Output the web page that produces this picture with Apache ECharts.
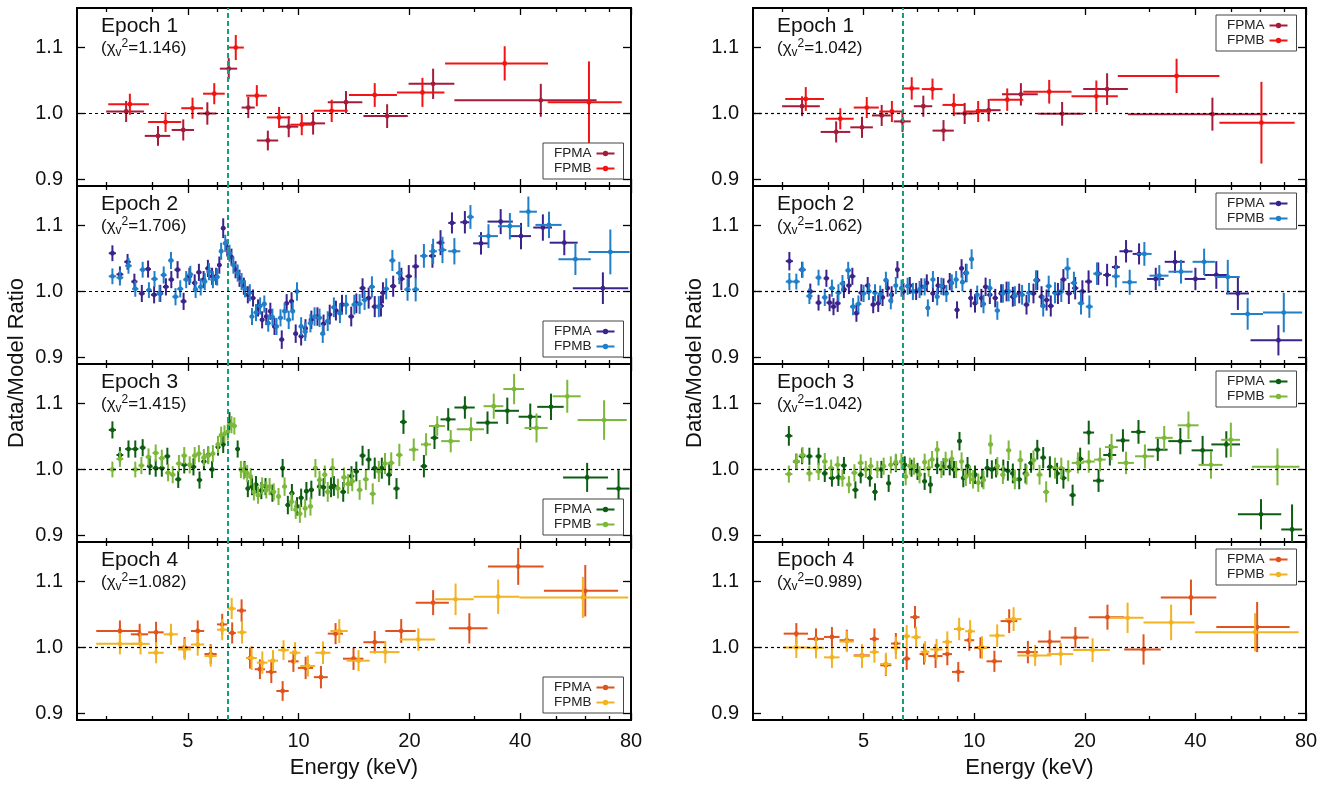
<!DOCTYPE html>
<html>
<head>
<meta charset="utf-8">
<title>Data/Model ratio per epoch</title>
<script src="https://cdn.jsdelivr.net/npm/echarts@6/dist/echarts.min.js"></script>
<style>
  html, body { margin: 0; padding: 0; background: #fff; }
  #chart { width: 1341px; height: 785px; }
</style>
</head>
<body>
<div id="chart"></div>
<script>
// each point: [energy keV, half bin width keV, data/model ratio, error]

// ---- left column ----
const ep1LeftA = [
  [3.4,0.4,1.003,0.016],[4.15,0.33,0.966,0.015],[4.86,0.34,0.975,0.016],[5.65,0.33,1.0,0.017],
  [6.46,0.35,1.068,0.016],[7.3,0.3,1.009,0.016],[8.25,0.55,0.959,0.015],[9.4,0.58,0.98,0.016],
  [10.95,0.85,0.985,0.017],[13.45,1.45,1.017,0.017],[17.4,2.4,0.996,0.018],[23.2,3.3,1.045,0.023],
  [45.5,19,1.02,0.025]
];
const ep1LeftB = [
  [3.48,0.44,1.014,0.016],[4.35,0.45,0.987,0.015],[5.15,0.35,1.008,0.016],[5.9,0.4,1.03,0.016],
  [6.75,0.35,1.1,0.019],[7.7,0.5,1.027,0.016],[8.85,0.65,0.994,0.016],[10.2,0.7,0.983,0.016],
  [12.3,1.3,1.004,0.017],[16.1,2.4,1.028,0.018],[21.7,3.2,1.032,0.022],[36.3,11.3,1.076,0.026],
  [61.5,14,1.017,0.062]
];
const ep2LeftA = [
  [3.12,0.07,1.058,0.012],[3.27,0.07,1.026,0.012],[3.43,0.07,1.045,0.012],[3.58,0.07,1.015,0.012],
  [3.75,0.07,0.997,0.013],[3.9,0.07,1.034,0.013],[4.05,0.08,0.995,0.013],[4.21,0.08,0.997,0.013],
  [4.36,0.08,1.007,0.013],[4.51,0.08,1.018,0.013],[4.69,0.09,1.033,0.013],[4.87,0.09,0.985,0.013],
  [5.05,0.09,1.023,0.013],[5.22,0.09,1.013,0.013],[5.36,0.09,1.029,0.013],[5.52,0.09,1.018,0.013],
  [5.67,0.09,1.035,0.013],[5.82,0.09,1.023,0.013],[5.97,0.09,1.023,0.013],[6.09,0.09,1.04,0.013],
  [6.24,0.09,1.096,0.015],[6.4,0.09,1.066,0.013],[6.57,0.1,1.052,0.013],[6.74,0.1,1.033,0.013],
  [6.91,0.1,1.02,0.013],[7.1,0.1,1.008,0.013],[7.28,0.1,0.995,0.013],[7.52,0.12,0.99,0.013],
  [7.76,0.12,0.975,0.013],[7.96,0.12,0.957,0.013],[8.17,0.12,0.962,0.013],[8.38,0.13,0.97,0.013],
  [8.6,0.13,0.947,0.013],[9.0,0.14,0.927,0.014],[9.28,0.14,0.982,0.014],[9.57,0.15,0.985,0.014],
  [9.82,0.15,0.936,0.014],[10.16,0.16,0.932,0.014],[10.44,0.16,0.944,0.014],[10.83,0.18,0.957,0.014],
  [11.25,0.18,0.962,0.014],[11.69,0.2,0.951,0.014],[12.15,0.2,0.965,0.015],[12.63,0.22,0.971,0.015],
  [13.12,0.22,0.98,0.015],[13.9,0.25,0.962,0.015],[14.35,0.25,0.982,0.015],[14.92,0.28,1.005,0.015],
  [15.5,0.28,0.99,0.016],[16.1,0.3,0.977,0.016],[16.74,0.3,0.978,0.016],[16.95,0.3,0.998,0.016],
  [18.07,0.35,1.008,0.016],[19.02,0.38,1.019,0.017],[19.92,0.4,1.023,0.017],[20.8,0.45,1.038,0.018],
  [23.1,0.5,1.054,0.018],[24.3,0.6,1.074,0.019],[26.1,0.6,1.104,0.016],[28.3,0.8,1.105,0.017],
  [31.3,1.5,1.073,0.017],[35.4,2.8,1.106,0.019],[40.2,2.6,1.084,0.02],[46.1,2.7,1.097,0.02],
  [52.7,4.6,1.074,0.019],[67.1,11.5,1.005,0.024]
];
const ep2LeftB = [
  [3.12,0.07,1.023,0.012],[3.27,0.07,1.021,0.012],[3.45,0.07,1.039,0.012],[3.6,0.07,1.004,0.012],
  [3.77,0.07,1.033,0.012],[3.92,0.07,1.002,0.012],[4.06,0.08,1.019,0.012],[4.19,0.08,0.997,0.013],
  [4.3,0.08,1.025,0.013],[4.5,0.08,1.047,0.013],[4.63,0.09,0.992,0.013],[4.77,0.09,1.004,0.013],
  [4.95,0.09,1.018,0.013],[5.08,0.09,1.026,0.013],[5.25,0.09,1.003,0.013],[5.42,0.09,1.007,0.013],
  [5.56,0.09,1.015,0.013],[5.71,0.09,1.03,0.013],[5.85,0.09,1.018,0.013],[6.01,0.09,1.022,0.013],
  [6.16,0.09,1.061,0.013],[6.32,0.09,1.073,0.013],[6.49,0.1,1.058,0.013],[6.65,0.1,1.04,0.013],
  [6.83,0.1,1.028,0.013],[7.0,0.1,1.015,0.013],[7.15,0.1,1.004,0.013],[7.37,0.11,0.998,0.013],
  [7.47,0.11,0.962,0.013],[7.66,0.12,0.968,0.013],[7.86,0.12,0.978,0.013],[8.07,0.12,0.981,0.013],
  [8.27,0.13,0.952,0.013],[8.49,0.13,0.961,0.013],[8.71,0.13,0.947,0.013],[8.93,0.14,0.96,0.013],
  [9.16,0.14,0.97,0.013],[9.4,0.15,0.957,0.014],[9.64,0.15,0.97,0.014],[9.9,0.15,1.0,0.014],
  [10.16,0.16,0.947,0.014],[10.42,0.16,0.939,0.014],[10.77,0.18,0.952,0.014],[11.05,0.18,0.962,0.014],
  [11.4,0.19,0.96,0.014],[11.63,0.19,0.936,0.014],[12.0,0.2,0.955,0.015],[12.47,0.22,0.976,0.015],
  [12.95,0.22,0.967,0.015],[13.46,0.24,0.98,0.015],[14.17,0.25,0.98,0.015],[14.65,0.26,0.981,0.015],
  [15.11,0.28,0.987,0.015],[15.82,0.3,1.007,0.016],[16.52,0.3,0.977,0.016],[17.3,0.32,1.004,0.016],
  [17.98,0.35,1.047,0.016],[18.78,0.38,1.028,0.017],[19.77,0.4,1.003,0.017],[20.8,0.45,1.003,0.018],
  [21.9,0.5,1.054,0.018],[23.2,0.55,1.061,0.019],[24.6,0.6,1.063,0.02],[26.5,1.0,1.061,0.02],
  [29.3,0.6,1.113,0.018],[32.8,2.0,1.084,0.018],[37.5,2.7,1.099,0.02],[42.1,2.3,1.121,0.023],
  [47.9,3.9,1.101,0.02],[56.5,5.7,1.049,0.024],[70.3,9.0,1.06,0.034]
];
const ep3LeftA = [
  [3.12,0.07,1.06,0.013],[3.27,0.07,1.022,0.012],[3.45,0.07,1.031,0.013],[3.6,0.07,1.031,0.013],
  [3.77,0.07,1.033,0.013],[3.94,0.07,1.005,0.013],[4.09,0.08,1.002,0.013],[4.25,0.08,1.002,0.013],
  [4.4,0.08,1.02,0.013],[4.71,0.09,0.985,0.013],[4.89,0.09,1.007,0.013],[5.18,0.09,1.004,0.013],
  [5.38,0.09,0.984,0.013],[5.53,0.09,1.012,0.013],[5.68,0.09,1.022,0.013],[5.82,0.09,1.0,0.013],
  [6.04,0.09,1.034,0.013],[6.24,0.09,1.038,0.013],[6.49,0.1,1.073,0.014],[6.83,0.1,1.031,0.013],
  [7.13,0.1,1.0,0.013],[7.28,0.1,0.971,0.013],[7.47,0.11,0.974,0.013],[7.66,0.12,0.977,0.013],
  [7.92,0.12,0.968,0.013],[8.13,0.12,0.974,0.013],[8.49,0.13,0.964,0.013],[9.05,0.14,1.002,0.014],
  [9.35,0.14,0.946,0.014],[9.59,0.15,0.964,0.014],[9.9,0.15,0.944,0.014],[10.16,0.16,0.957,0.014],
  [10.5,0.16,0.967,0.014],[10.83,0.18,0.969,0.014],[11.4,0.19,0.974,0.014],[11.69,0.19,0.973,0.014],
  [12.25,0.2,0.973,0.015],[12.47,0.22,0.975,0.015],[13.22,0.24,0.966,0.015],[13.92,0.25,0.99,0.015],
  [14.35,0.25,0.997,0.015],[14.92,0.28,1.021,0.015],[15.5,0.28,1.015,0.016],[16.1,0.3,1.002,0.016],
  [16.83,0.3,1.002,0.016],[17.62,0.32,0.992,0.016],[18.45,0.36,0.971,0.016],[19.27,0.4,1.072,0.018],
  [21.9,0.45,1.005,0.017],[23.4,0.55,1.048,0.017],[25.5,1.2,1.076,0.017],[28.3,1.8,1.094,0.017],
  [32.6,2.2,1.071,0.017],[36.9,2.8,1.089,0.02],[42.6,3.0,1.08,0.02],[48.5,4.0,1.095,0.02],
  [60.8,8.5,0.988,0.022],[74.0,5.3,0.971,0.028]
];
const ep3LeftB = [
  [3.12,0.07,1.0,0.012],[3.27,0.07,1.016,0.012],[3.6,0.07,1.0,0.012],[3.74,0.07,1.006,0.013],
  [3.91,0.07,1.019,0.013],[4.09,0.08,1.025,0.013],[4.25,0.08,1.017,0.013],[4.42,0.08,0.995,0.013],
  [4.55,0.08,0.992,0.013],[4.73,0.09,1.009,0.013],[4.89,0.09,1.021,0.013],[5.06,0.09,1.007,0.013],
  [5.22,0.09,1.021,0.013],[5.36,0.09,1.024,0.013],[5.53,0.09,1.018,0.013],[5.68,0.09,1.021,0.013],
  [5.85,0.09,1.024,0.013],[6.04,0.09,1.038,0.013],[6.16,0.09,1.052,0.013],[6.29,0.09,1.054,0.013],
  [6.42,0.09,1.057,0.013],[6.57,0.1,1.068,0.013],[6.69,0.1,1.066,0.013],[6.97,0.1,1.0,0.013],
  [7.1,0.1,0.998,0.013],[7.25,0.1,0.994,0.013],[7.41,0.11,0.989,0.013],[7.56,0.11,0.966,0.013],
  [7.76,0.12,0.961,0.013],[7.96,0.12,0.975,0.013],[8.17,0.12,0.969,0.013],[8.34,0.13,0.974,0.013],
  [8.56,0.13,0.966,0.013],[8.82,0.13,0.959,0.013],[9.16,0.14,0.974,0.014],[9.57,0.15,0.951,0.014],
  [9.82,0.15,0.939,0.014],[10.08,0.16,0.933,0.014],[10.42,0.16,0.941,0.014],[10.77,0.18,0.944,0.014],
  [11.11,0.18,1.002,0.014],[11.4,0.19,0.984,0.014],[11.78,0.19,0.992,0.014],[12.0,0.2,0.966,0.015],
  [12.37,0.2,1.002,0.015],[12.79,0.22,0.971,0.015],[13.29,0.24,0.988,0.015],[13.63,0.24,0.978,0.015],
  [13.99,0.25,0.982,0.015],[14.65,0.26,0.969,0.015],[15.23,0.28,0.985,0.016],[15.9,0.3,0.963,0.016],
  [16.52,0.3,0.997,0.016],[17.17,0.32,1.009,0.016],[17.85,0.35,1.01,0.016],[18.78,0.38,1.022,0.017],
  [20.55,0.6,1.03,0.017],[22.2,0.7,1.038,0.017],[23.8,1.2,1.066,0.015],[25.9,1.5,1.043,0.017],
  [29.4,2.5,1.061,0.018],[33.9,2.1,1.096,0.019],[38.5,2.5,1.122,0.023],[44.3,3.2,1.063,0.022],
  [53.7,4.7,1.111,0.025],[67.6,10.3,1.075,0.03]
];
const ep4LeftA = [
  [3.27,0.45,1.025,0.016],[3.7,0.2,1.02,0.016],[4.1,0.2,1.023,0.016],[4.9,0.2,1.0,0.016],
  [5.32,0.22,1.025,0.016],[5.77,0.22,0.99,0.015],[6.2,0.2,1.035,0.016],[6.6,0.15,1.022,0.016],
  [7.0,0.2,1.056,0.017],[7.38,0.18,0.984,0.016],[7.85,0.25,0.967,0.015],[8.43,0.28,0.963,0.017],
  [9.05,0.35,0.934,0.015],[9.68,0.32,0.979,0.016],[10.45,0.5,0.969,0.017],[11.5,0.5,0.955,0.017],
  [12.6,0.6,1.021,0.016],[14.1,0.9,0.983,0.017],[16.1,1.1,1.008,0.017],[19.0,1.8,1.025,0.018],
  [23.2,2.4,1.068,0.019],[29.1,3.5,1.029,0.023],[39.5,6.8,1.123,0.028],[60.1,13.7,1.086,0.039]
];
const ep4LeftB = [
  [3.27,0.45,1.0055,0.016],[3.72,0.22,1.0055,0.016],[4.1,0.2,0.992,0.016],[4.5,0.2,1.02,0.016],
  [4.9,0.2,0.997,0.016],[5.32,0.22,1.0045,0.017],[5.77,0.22,0.987,0.016],[6.2,0.2,1.027,0.016],
  [6.58,0.17,1.059,0.016],[7.02,0.2,1.023,0.017],[7.45,0.25,0.984,0.018],[7.97,0.27,0.977,0.017],
  [8.52,0.27,0.98,0.016],[9.1,0.3,0.996,0.015],[9.78,0.33,0.992,0.016],[10.6,0.5,0.972,0.016],
  [11.65,0.55,0.992,0.017],[12.9,0.7,1.025,0.018],[14.55,1.05,0.98,0.016],[17.2,1.6,0.993,0.017],
  [21.15,2.35,1.012,0.017],[26.7,3.2,1.073,0.024],[34.85,4.95,1.077,0.026],[59.2,19.4,1.076,0.031]
];

// ---- right column ----
const ep1RightA = [
  [3.4,0.4,1.011,0.015],[4.21,0.39,0.972,0.016],[4.95,0.35,0.979,0.016],[5.6,0.33,0.997,0.016],
  [6.38,0.34,0.988,0.016],[7.27,0.42,1.011,0.016],[8.25,0.55,0.974,0.016],[9.42,0.62,1.0,0.016],
  [10.95,0.85,1.005,0.017],[13.4,1.5,1.029,0.017],[17.35,2.45,0.9995,0.018],[23.0,3.2,1.037,0.024],
  [44.5,18.3,0.999,0.025]
];
const ep1RightB = [
  [3.48,0.42,1.022,0.018],[4.32,0.38,0.992,0.016],[5.1,0.4,1.009,0.016],[5.97,0.45,1.003,0.016],
  [6.76,0.34,1.038,0.017],[7.7,0.5,1.037,0.016],[8.8,0.6,1.013,0.017],[10.25,0.85,1.003,0.016],
  [12.3,1.3,1.021,0.017],[16.0,2.4,1.033,0.018],[21.5,3.1,1.026,0.024],[35.55,10.95,1.057,0.026],
  [60.5,14,0.986,0.062]
];
const ep2RightA = [
  [3.14,0.07,1.046,0.014],[3.4,0.07,1.033,0.012],[3.58,0.07,1.0,0.012],[3.77,0.07,0.983,0.012],
  [3.96,0.07,1.02,0.013],[4.04,0.08,0.983,0.013],[4.14,0.08,0.977,0.013],[4.25,0.08,0.982,0.013],
  [4.42,0.08,1.003,0.013],[4.56,0.08,1.009,0.013],[4.66,0.09,1.023,0.013],[4.78,0.09,0.967,0.013],
  [4.93,0.09,0.998,0.013],[5.13,0.09,1.009,0.013],[5.31,0.09,0.98,0.013],[5.48,0.09,0.982,0.013],
  [5.63,0.09,0.991,0.013],[5.81,0.09,1.005,0.013],[5.96,0.09,0.995,0.013],[6.18,0.09,1.033,0.013],
  [6.42,0.1,1.0,0.013],[6.68,0.1,1.009,0.013],[6.95,0.1,1.0,0.013],[7.18,0.1,1.007,0.013],
  [7.43,0.11,1.013,0.013],[7.72,0.12,0.997,0.013],[7.97,0.12,1.009,0.013],[8.25,0.12,1.007,0.013],
  [8.58,0.13,1.015,0.013],[8.98,0.14,0.972,0.013],[9.24,0.14,1.035,0.014],[9.49,0.15,1.028,0.014],
  [9.79,0.15,0.99,0.014],[10.05,0.16,0.982,0.014],[10.46,0.16,0.99,0.014],[10.74,0.18,1.007,0.014],
  [11.03,0.18,0.995,0.014],[11.41,0.19,0.99,0.014],[11.84,0.2,0.997,0.014],[12.25,0.2,1.0,0.015],
  [12.74,0.22,0.992,0.015],[13.26,0.24,0.997,0.015],[13.88,0.25,0.98,0.015],[14.5,0.26,0.997,0.015],
  [14.85,0.28,1.017,0.015],[15.25,0.28,0.992,0.016],[15.74,0.3,0.987,0.016],[16.16,0.3,0.978,0.016],
  [16.9,0.32,0.997,0.016],[17.49,0.34,1.018,0.016],[18.1,0.36,0.997,0.016],[18.83,0.38,1.005,0.017],
  [19.7,0.4,1.0,0.017],[20.48,0.45,1.015,0.017],[21.76,0.5,1.027,0.017],[23.0,0.55,1.025,0.017],
  [24.3,0.6,1.037,0.017],[25.9,1.05,1.061,0.017],[28.1,1.1,1.057,0.016],[31.2,1.65,1.019,0.017],
  [35.2,2.2,1.045,0.017],[40.0,2.6,1.019,0.017],[45.6,3.3,1.025,0.021],[52.2,3.75,0.997,0.025],
  [67.3,10.8,0.926,0.023]
];
const ep2RightB = [
  [3.14,0.07,1.015,0.013],[3.28,0.07,1.015,0.012],[3.41,0.07,1.033,0.012],[3.56,0.07,0.993,0.012],
  [3.77,0.07,1.021,0.012],[3.92,0.07,0.991,0.013],[4.1,0.08,1.005,0.013],[4.27,0.08,0.998,0.013],
  [4.38,0.08,1.012,0.013],[4.54,0.08,1.032,0.013],[4.68,0.09,0.977,0.013],[4.84,0.09,0.981,0.013],
  [5.0,0.09,0.997,0.013],[5.17,0.09,1.0,0.013],[5.37,0.09,0.998,0.013],[5.55,0.09,0.996,0.013],
  [5.75,0.09,1.017,0.013],[5.93,0.09,0.986,0.013],[6.12,0.09,1.009,0.013],[6.34,0.1,1.005,0.013],
  [6.59,0.1,1.008,0.013],[6.81,0.1,1.0,0.013],[7.1,0.1,1.003,0.013],[7.33,0.11,1.007,0.013],
  [7.48,0.11,0.975,0.013],[7.72,0.12,1.018,0.013],[7.93,0.12,0.992,0.013],[8.14,0.12,1.008,0.013],
  [8.4,0.13,0.997,0.013],[8.69,0.13,1.013,0.013],[8.93,0.14,1.018,0.013],[9.29,0.14,1.014,0.014],
  [9.54,0.15,1.028,0.014],[9.84,0.15,1.049,0.015],[10.19,0.16,0.995,0.014],[10.6,0.17,0.981,0.014],
  [11.03,0.18,1.005,0.014],[11.56,0.19,0.971,0.014],[11.97,0.2,0.997,0.014],[12.41,0.2,1.0,0.015],
  [12.9,0.22,0.993,0.015],[13.5,0.24,0.995,0.015],[14.1,0.25,0.998,0.015],[14.73,0.26,1.017,0.015],
  [15.41,0.28,0.978,0.016],[15.95,0.3,1.008,0.016],[16.59,0.3,0.998,0.016],[17.26,0.32,1.0,0.016],
  [17.95,0.35,1.035,0.016],[18.68,0.38,1.013,0.017],[19.53,0.4,0.982,0.017],[20.58,0.45,0.977,0.017],
  [21.59,0.5,1.027,0.017],[24.3,0.6,1.023,0.017],[26.5,1.2,1.014,0.019],[29.05,1.35,1.057,0.018],
  [31.9,1.9,1.024,0.016],[36.55,2.75,1.03,0.018],[42.25,2.95,1.045,0.02],[49.0,3.8,1.022,0.026],
  [55.5,5.6,0.966,0.024],[69.6,8.5,0.968,0.03]
];
const ep3RightA = [
  [3.13,0.07,1.051,0.015],[3.28,0.07,1.012,0.012],[3.4,0.07,1.02,0.012],[3.56,0.07,1.02,0.013],
  [3.77,0.07,1.02,0.013],[3.92,0.07,0.994,0.013],[4.1,0.08,0.987,0.013],[4.27,0.08,0.988,0.013],
  [4.42,0.08,1.006,0.013],[4.75,0.09,0.969,0.013],[4.91,0.09,0.992,0.013],[5.2,0.09,0.987,0.013],
  [5.37,0.09,0.966,0.013],[5.59,0.09,1.0,0.013],[5.85,0.09,0.979,0.013],[6.12,0.09,1.009,0.013],
  [6.47,0.1,1.007,0.013],[6.75,0.1,1.002,0.013],[7.01,0.1,0.997,0.013],[7.33,0.11,0.982,0.013],
  [7.6,0.11,0.977,0.013],[7.93,0.12,1.006,0.013],[8.25,0.12,1.004,0.013],[8.58,0.13,1.004,0.013],
  [8.81,0.13,1.0,0.013],[9.12,0.14,1.043,0.014],[9.34,0.14,0.987,0.014],[9.59,0.15,1.005,0.014],
  [10.05,0.16,0.992,0.014],[10.52,0.16,0.987,0.014],[10.85,0.18,1.002,0.014],[11.17,0.18,1.0,0.014],
  [11.47,0.19,1.002,0.014],[12.0,0.2,1.0,0.015],[12.35,0.2,0.998,0.015],[12.74,0.22,0.994,0.015],
  [13.26,0.24,0.985,0.015],[13.79,0.25,0.994,0.015],[14.28,0.25,1.01,0.015],[14.85,0.28,1.03,0.015],
  [15.41,0.28,1.018,0.016],[16.07,0.3,1.004,0.016],[16.81,0.32,0.994,0.016],[17.49,0.34,0.987,0.016],
  [18.53,0.36,0.961,0.016],[19.43,0.4,1.016,0.017],[20.5,0.7,1.056,0.018],[21.8,0.75,0.983,0.017],
  [23.4,0.95,1.022,0.016],[25.4,1.05,1.044,0.017],[28.0,1.25,1.057,0.018],[31.6,2.0,1.03,0.017],
  [36.4,2.65,1.043,0.02],[41.85,2.8,1.029,0.022],[48.55,4.35,1.038,0.02],[60.35,8.15,0.932,0.023],
  [73.3,4.8,0.909,0.038]
];
const ep3RightB = [
  [3.13,0.07,0.993,0.013],[3.28,0.07,1.012,0.012],[3.41,0.07,1.022,0.012],[3.56,0.07,0.994,0.012],
  [3.77,0.07,0.997,0.013],[3.92,0.07,1.012,0.013],[4.08,0.08,1.002,0.013],[4.25,0.08,1.007,0.013],
  [4.38,0.08,0.987,0.013],[4.56,0.08,0.977,0.013],[4.72,0.09,0.995,0.013],[4.91,0.09,1.01,0.013],
  [5.07,0.09,1.0,0.013],[5.23,0.09,1.005,0.013],[5.45,0.09,1.0,0.013],[5.67,0.09,1.005,0.013],
  [5.93,0.09,1.007,0.013],[6.12,0.09,1.011,0.013],[6.34,0.1,1.012,0.013],[6.51,0.1,0.989,0.013],
  [6.68,0.1,1.005,0.013],[6.86,0.1,1.005,0.013],[7.1,0.1,0.992,0.013],[7.33,0.11,1.011,0.013],
  [7.52,0.11,1.002,0.013],[7.68,0.12,1.015,0.013],[7.93,0.12,1.03,0.013],[8.14,0.12,1.0,0.013],
  [8.36,0.13,1.014,0.013],[8.69,0.13,1.016,0.013],[8.93,0.14,1.0,0.013],[9.24,0.14,1.012,0.014],
  [9.49,0.15,0.989,0.014],[9.74,0.15,0.992,0.014],[9.93,0.15,0.985,0.014],[10.26,0.16,0.98,0.014],
  [10.6,0.17,0.984,0.014],[11.08,0.18,1.038,0.015],[11.56,0.19,1.005,0.014],[11.97,0.2,0.992,0.014],
  [12.41,0.2,1.029,0.015],[12.9,0.22,0.985,0.015],[13.36,0.24,1.014,0.015],[13.88,0.25,0.992,0.015],
  [14.5,0.26,1.014,0.015],[15.06,0.28,0.992,0.015],[15.7,0.3,0.966,0.016],[16.6,0.3,1.002,0.016],
  [17.26,0.32,1.002,0.016],[18.03,0.35,0.998,0.016],[19.15,0.72,1.01,0.016],[20.5,0.8,1.012,0.017],
  [22.0,0.8,1.015,0.018],[23.65,0.95,1.034,0.02],[25.9,1.3,1.01,0.017],[29.15,1.75,1.02,0.018],
  [32.9,1.8,1.048,0.018],[38.3,2.5,1.067,0.021],[44.1,3.3,1.007,0.021],[49.95,2.95,1.045,0.026],
  [66.9,9.9,1.004,0.028]
];
const ep4RightA = [
  [3.28,0.25,1.021,0.016],[3.71,0.19,1.013,0.016],[4.1,0.2,1.016,0.015],[4.5,0.2,1.011,0.016],
  [4.95,0.25,0.988,0.016],[5.35,0.15,1.013,0.016],[5.75,0.2,0.973,0.016],[6.12,0.18,1.006,0.016],
  [6.55,0.15,0.983,0.017],[6.9,0.2,1.046,0.017],[7.3,0.2,0.99,0.016],[7.85,0.35,0.987,0.018],
  [8.45,0.25,0.99,0.017],[9.05,0.35,0.963,0.015],[9.7,0.3,1.011,0.016],[10.4,0.4,0.9995,0.016],
  [11.35,0.55,0.979,0.016],[12.45,0.65,1.04,0.018],[14.0,0.9,0.993,0.017],[16.05,1.15,1.009,0.017],
  [18.85,1.65,1.015,0.016],[23.05,2.55,1.046,0.019],[28.9,3.3,0.997,0.023],[38.9,6.7,1.076,0.027],
  [58.9,13.3,1.031,0.038]
];
const ep4RightB = [
  [3.28,0.25,1.0,0.016],[3.71,0.19,0.9995,0.016],[4.1,0.2,0.985,0.016],[4.5,0.2,1.009,0.016],
  [4.95,0.25,0.987,0.018],[5.35,0.15,0.993,0.016],[5.75,0.2,0.975,0.017],[6.12,0.18,0.9995,0.017],
  [6.55,0.15,1.017,0.017],[6.95,0.2,1.0155,0.016],[7.35,0.2,0.9935,0.016],[7.9,0.3,0.997,0.016],
  [8.45,0.25,1.0085,0.016],[9.1,0.3,1.028,0.017],[9.75,0.3,1.0245,0.017],[10.5,0.45,1.0,0.017],
  [11.55,0.55,1.018,0.017],[12.8,0.65,1.043,0.018],[14.65,1.55,0.988,0.016],[17.2,1.4,0.99,0.017],
  [21.0,2.4,0.996,0.018],[26.15,2.75,1.045,0.023],[34.35,5.45,1.038,0.027],[58.15,18.25,1.023,0.029]
];

const xMajorTicks = [5, 10, 20, 40, 80];
const xMinorTicks = [3, 4, 6, 7, 8, 9, 30, 50, 60, 70];
const yTicks = [0.9, 1.0, 1.1];
const ironLineKeV = 6.4;
const chiLeft = ['1.146', '1.706', '1.415', '1.082'];
const chiRight = ['1.042', '1.062', '1.042', '0.989'];

// ---- layout / style ----
const FONT = '"Liberation Sans", Arial, Helvetica, sans-serif';
const colLeft = [77, 753];
const colWidth = [554, 553];
const rowTop = [8, 186, 364, 542];
const rowHeight = 178;
const palette = [
  ['#a51c3a', '#f21414'],
  ['#3b238c', '#1f7fc9'],
  ['#0d5e12', '#7cb83a'],
  ['#e0531c', '#f3b221']
];
const LEGEND_ICON = 'path://M0,4L20,4L20,6L0,6Z M13,5A3,3,0,1,1,7,5A3,3,0,1,1,13,5Z';

const panels = [
  { col: 0, row: 0, chi: chiLeft[0], a: ep1LeftA, b: ep1LeftB },
  { col: 0, row: 1, chi: chiLeft[1], a: ep2LeftA, b: ep2LeftB },
  { col: 0, row: 2, chi: chiLeft[2], a: ep3LeftA, b: ep3LeftB },
  { col: 0, row: 3, chi: chiLeft[3], a: ep4LeftA, b: ep4LeftB },
  { col: 1, row: 0, chi: chiRight[0], a: ep1RightA, b: ep1RightB },
  { col: 1, row: 1, chi: chiRight[1], a: ep2RightA, b: ep2RightB },
  { col: 1, row: 2, chi: chiRight[2], a: ep3RightA, b: ep3RightB },
  { col: 1, row: 3, chi: chiRight[3], a: ep4RightA, b: ep4RightB }
];

function errorBar(params, api) {
  const e = api.value(0), de = api.value(1), r = api.value(2), dr = api.value(3);
  const c = api.coord([e, r]);
  const xl = api.coord([e - de, r])[0];
  const xr = api.coord([e + de, r])[0];
  const yt = api.coord([e, r + dr])[1];
  const yb = api.coord([e, r - dr])[1];
  const color = api.visual('color');
  return {
    type: 'group',
    children: [
      { type: 'line', shape: { x1: xl, y1: c[1], x2: xr, y2: c[1] }, style: { stroke: color, lineWidth: 2 } },
      { type: 'line', shape: { x1: c[0], y1: yt, x2: c[0], y2: yb }, style: { stroke: color, lineWidth: 2 } },
      { type: 'circle', shape: { cx: c[0], cy: c[1], r: 2.4 }, style: { fill: color } }
    ]
  };
}

const yTitleStyle = { text: 'Data/Model Ratio', fontSize: 22, fontFamily: FONT, fill: '#111', align: 'center', verticalAlign: 'middle' };
const option = {
  animation: false,
  backgroundColor: '#fff',
  grid: [], xAxis: [], yAxis: [], series: [], legend: [], title: [],
  graphic: [
    { type: 'text', x: 17, y: 363, rotation: Math.PI / 2, silent: true, style: yTitleStyle },
    { type: 'text', x: 695, y: 363, rotation: Math.PI / 2, silent: true, style: yTitleStyle }
  ]
};

panels.forEach((p, g) => {
  const left = colLeft[p.col];
  const width = colWidth[p.col];
  const top = rowTop[p.row];
  const bottomRow = p.row === 3;
  const [colorA, colorB] = palette[p.row];
  const tag = ' ' + (p.row + 1) + (p.col ? 'R' : 'L');

  option.grid.push({
    left: left, top: top, width: width, height: rowHeight,
    show: true, borderColor: '#000', borderWidth: 2, backgroundColor: 'transparent',
    containLabel: false, outerBoundsMode: 'none'
  });

  const xBase = {
    type: 'log', logBase: 10, gridIndex: g, min: 2.5, max: 80,
    axisLine: { show: false }, splitLine: { show: false }, minorTick: { show: false }
  };
  const tickStyle = { color: '#000', width: 1.3 };
  option.xAxis.push(Object.assign({}, xBase, {
    position: 'bottom',
    axisTick: { show: true, inside: true, length: 7, customValues: xMajorTicks, lineStyle: tickStyle },
    axisLabel: bottomRow
      ? { show: true, customValues: xMajorTicks, formatter: v => String(Math.round(v)),
          fontSize: 20, color: '#111', fontFamily: FONT, margin: 11 }
      : { show: false },
    name: bottomRow ? 'Energy (keV)' : '',
    nameLocation: 'middle', nameGap: 37,
    nameTextStyle: { fontSize: 22, color: '#111', fontFamily: FONT }
  }));
  option.xAxis.push(Object.assign({}, xBase, {
    position: 'bottom',
    axisTick: { show: true, inside: true, length: 4, customValues: xMinorTicks, lineStyle: tickStyle },
    axisLabel: { show: false }
  }));
  option.xAxis.push(Object.assign({}, xBase, {
    position: 'top',
    axisTick: { show: true, inside: true, length: 7, customValues: xMajorTicks, lineStyle: tickStyle },
    axisLabel: { show: false }
  }));
  option.xAxis.push(Object.assign({}, xBase, {
    position: 'top',
    axisTick: { show: true, inside: true, length: 4, customValues: xMinorTicks, lineStyle: tickStyle },
    axisLabel: { show: false }
  }));

  const yBase = {
    type: 'value', gridIndex: g, min: 0.89, max: 1.16,
    axisLine: { show: false }, splitLine: { show: false }
  };
  option.yAxis.push(Object.assign({}, yBase, {
    position: 'left',
    axisTick: { show: true, inside: true, length: 8, customValues: yTicks, lineStyle: tickStyle },
    axisLabel: { show: true, customValues: yTicks, formatter: v => v.toFixed(1),
      fontSize: 20, color: '#111', fontFamily: FONT, margin: 14 }
  }));
  option.yAxis.push(Object.assign({}, yBase, {
    position: 'right',
    axisTick: { show: true, inside: true, length: 8, customValues: yTicks, lineStyle: tickStyle },
    axisLabel: { show: false }
  }));

  const xi = 4 * g, yi = 2 * g;
  option.series.push({
    type: 'line', xAxisIndex: xi, yAxisIndex: yi, data: [], z: 1, silent: true,
    markLine: {
      silent: true, symbol: ['none', 'none'], animation: false, label: { show: false },
      data: [
        { xAxis: ironLineKeV, lineStyle: { color: '#14a07a', width: 2, type: [5, 3] } },
        { yAxis: 1, lineStyle: { color: '#000', width: 1.2, type: [3, 3] } }
      ]
    }
  });
  [[p.a, 'FPMA', colorA], [p.b, 'FPMB', colorB]].forEach(([d, inst, color]) => {
    option.series.push({
      type: 'custom', name: inst + tag, xAxisIndex: xi, yAxisIndex: yi,
      dimensions: ['energy', 'halfWidth', 'ratio', 'error'],
      encode: { x: 0, y: 2 },
      data: d, renderItem: errorBar, clip: true, silent: true, z: 3,
      itemStyle: { color: color }
    });
  });

  option.legend.push({
    left: left + (p.col === 0 ? 466 : 463),
    top: top + (p.col === 0 ? 135 : 7),
    orient: 'vertical', align: 'right', selectedMode: false,
    itemWidth: 18, itemHeight: 6, itemGap: 0,
    padding: [3, 9, 3, 11],
    borderColor: '#444', borderWidth: 1, backgroundColor: '#fff',
    icon: LEGEND_ICON,
    textStyle: { fontSize: 13.5, color: '#222', fontFamily: FONT, lineHeight: 15 },
    formatter: n => n.split(' ')[0],
    data: [
      { name: 'FPMA' + tag, itemStyle: { color: colorA } },
      { name: 'FPMB' + tag, itemStyle: { color: colorB } }
    ]
  });

  option.title.push({
    left: left + 24, top: top + 8, padding: 0, itemGap: 1,
    text: 'Epoch ' + (p.row + 1),
    subtext: '(χ{v|v}{s|2}=' + p.chi + ')',
    textStyle: { fontSize: 21, fontWeight: 'normal', color: '#111', fontFamily: FONT },
    subtextStyle: {
      fontSize: 17, color: '#111', fontFamily: FONT, lineHeight: 21,
      rich: {
        v: { fontSize: 12, color: '#111', fontFamily: FONT, verticalAlign: 'bottom', lineHeight: 13 },
        s: { fontSize: 12, color: '#111', fontFamily: FONT, verticalAlign: 'top', lineHeight: 13 }
      }
    }
  });
});

const chart = echarts.init(document.getElementById('chart'), null, { renderer: 'canvas' });
chart.setOption(option);
</script>
</body>
</html>
